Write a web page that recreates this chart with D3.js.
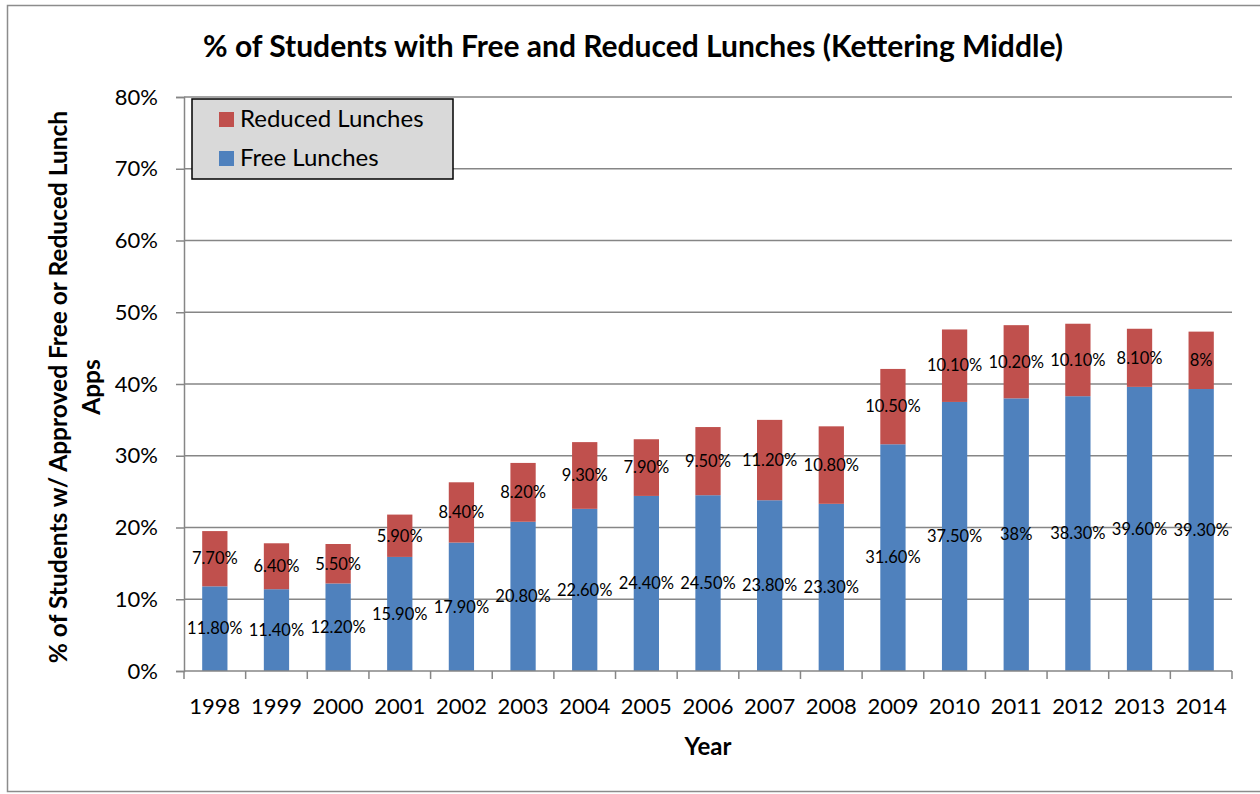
<!DOCTYPE html>
<html>
<head>
    <meta charset="utf-8">
    <title>Free and Reduced Lunches</title>
    <script src="https://d3js.org/d3.v7.min.js"></script>
    <style>
        body {
            margin: 0;
            background-color: #ffffff;
        }

        svg text {
            font-family: Lato, "Open Sans", sans-serif;
            fill: #000;
        }
    </style>
</head>
<body>
    <svg id="chart"></svg>

    <script type="text/javascript">
        const years = ["1998", "1999", "2000", "2001", "2002", "2003", "2004", "2005", "2006",
            "2007", "2008", "2009", "2010", "2011", "2012", "2013", "2014"]
        const freeLunches = [11.8, 11.4, 12.2, 15.9, 17.9, 20.8, 22.6, 24.4, 24.5, 23.8, 23.3,
            31.6, 37.5, 38, 38.3, 39.6, 39.3]
        const reducedLunches = [7.7, 6.4, 5.5, 5.9, 8.4, 8.2, 9.3, 7.9, 9.5, 11.2, 10.8,
            10.5, 10.1, 10.2, 10.1, 8.1, 8]
        const yTicks = [0, 10, 20, 30, 40, 50, 60, 70, 80]
        const legendNames = ["Reduced Lunches", "Free Lunches"]

        const width = 1260, height = 794
        const blue = "#4f81bd", red = "#c0504d", gridColor = "#868686"

        let main = d3.select("#chart").attr("width", width).attr("height", height)

        // outer chart border
        main.append("rect")
            .attr("x", 7.5).attr("y", 5.5)
            .attr("width", 1260).attr("height", 786)
            .attr("fill", "none").attr("stroke", "#8c8c8c").attr("stroke-width", 1.5)

        let x = d3.scaleBand().domain(years).range([184, 1232]).paddingInner(0.59).paddingOuter(0.295)
        let y = d3.scaleLinear().domain([0, 80]).range([671, 97])

        // gridlines
        main.append("g").selectAll("line")
            .data(yTicks.filter(d => d > 0))
            .enter().append("line")
            .attr("x1", 184).attr("x2", 1232)
            .attr("y1", d => y(d)).attr("y2", d => y(d))
            .attr("stroke", gridColor).attr("stroke-width", 1.5)

        // y axis
        let yAxis = main.append("g")
            .attr("transform", "translate(184,0)")
            .call(d3.axisLeft(y).tickValues(yTicks).tickSize(8).tickPadding(18).tickFormat(d => d + "%"))
        yAxis.select(".domain").attr("stroke", gridColor).attr("stroke-width", 1.5)
        yAxis.selectAll(".tick line").attr("stroke", gridColor).attr("stroke-width", 1.5)
        yAxis.selectAll("text").style("font-size", "22px").attr("fill", "#000")

        // bars
        let bars = main.append("g").selectAll("g")
            .data(years.map((yr, i) => ({ yr: yr, free: freeLunches[i], reduced: reducedLunches[i] })))
            .enter().append("g")

        bars.append("rect")
            .attr("x", d => x(d.yr)).attr("width", x.bandwidth())
            .attr("y", d => y(d.free)).attr("height", d => y(0) - y(d.free))
            .attr("fill", blue)
        bars.append("rect")
            .attr("x", d => x(d.yr)).attr("width", x.bandwidth())
            .attr("y", d => y(d.free + d.reduced)).attr("height", d => y(d.free) - y(d.free + d.reduced))
            .attr("fill", red)

        let fmt = v => Number.isInteger(v) ? v + "%" : v.toFixed(2) + "%"

        bars.append("text")
            .text(d => fmt(d.free))
            .attr("x", d => x(d.yr) + x.bandwidth() / 2)
            .attr("y", d => y(d.free / 2))
            .attr("dy", "0.35em")
            .attr("text-anchor", "middle")
            .style("font-size", "16.5px")
        bars.append("text")
            .text(d => fmt(d.reduced))
            .attr("x", d => x(d.yr) + x.bandwidth() / 2)
            .attr("y", d => y(d.free + d.reduced / 2))
            .attr("dy", "0.35em")
            .attr("text-anchor", "middle")
            .style("font-size", "16.5px")

        // x axis
        let xTickPos = d3.range(years.length + 1).map(i => 184 + i * (1048 / years.length))
        main.append("g").selectAll("line")
            .data(xTickPos).enter().append("line")
            .attr("x1", d => d).attr("x2", d => d)
            .attr("y1", 671).attr("y2", 679)
            .attr("stroke", gridColor).attr("stroke-width", 1.5)
        main.append("line")
            .attr("x1", 184).attr("x2", 1232).attr("y1", 671).attr("y2", 671)
            .attr("stroke", gridColor).attr("stroke-width", 1.5)
        main.append("g").selectAll("text")
            .data(years).enter().append("text")
            .text(d => d)
            .attr("x", d => x(d) + x.bandwidth() / 2)
            .attr("y", 714)
            .attr("text-anchor", "middle")
            .style("font-size", "22px")

        // titles
        main.append("text")
            .text("% of Students with Free and Reduced Lunches (Kettering Middle)")
            .attr("x", 633).attr("y", 57)
            .attr("text-anchor", "middle")
            .style("font-size", "30px").style("font-weight", "bold")
        main.append("text")
            .text("Year")
            .attr("x", 708).attr("y", 755)
            .attr("text-anchor", "middle")
            .style("font-size", "24px").style("font-weight", "bold")
        let yTitle = main.append("text")
            .attr("transform", "translate(67,387) rotate(-90)")
            .attr("text-anchor", "middle")
            .style("font-size", "24.5px").style("font-weight", "bold")
        yTitle.append("tspan").attr("x", 0).attr("y", 0).text("% of Students w/ Approved Free or Reduced Lunch")
        yTitle.append("tspan").attr("x", 0).attr("y", 33).text("Apps")

        // legend
        let legend = main.append("g")
        legend.append("rect")
            .attr("x", 192).attr("y", 99).attr("width", 261).attr("height", 80)
            .attr("fill", "#d9d9d9").attr("stroke", "#000").attr("stroke-width", 1.5)
        let items = legend.selectAll("g.item")
            .data(legendNames).enter().append("g").attr("class", "item")
            .attr("transform", (d, i) => "translate(219," + (112 + i * 39) + ")")
        items.append("rect").attr("width", 15).attr("height", 15)
            .attr("fill", (d, i) => i === 0 ? red : blue)
        items.append("text").text(d => d)
            .attr("x", 21).attr("y", 7).attr("dy", "0.35em")
            .style("font-size", "24px")
    </script>
</body>
</html>
